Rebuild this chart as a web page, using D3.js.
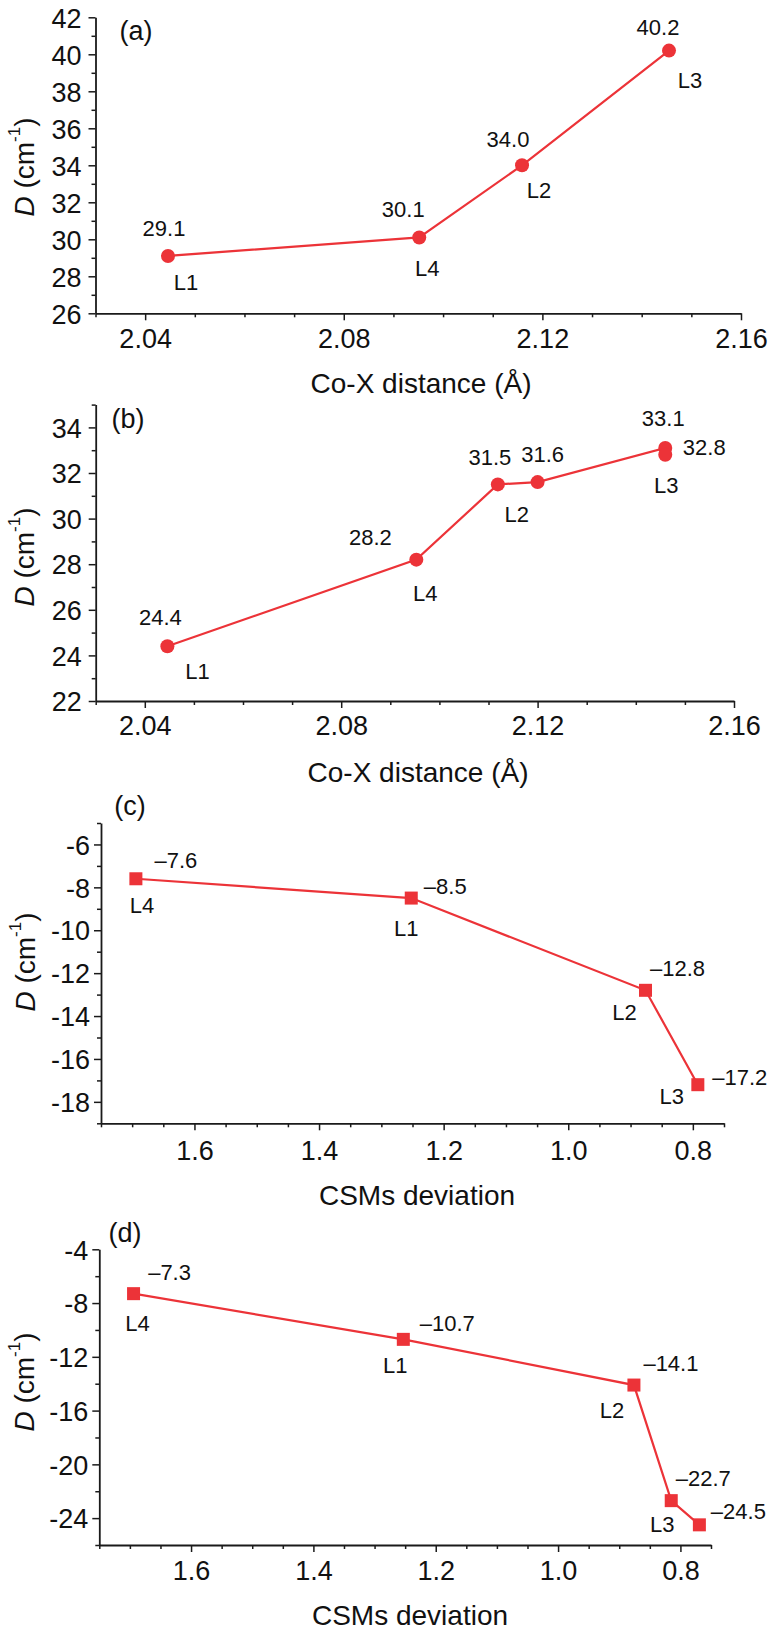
<!DOCTYPE html>
<html>
<head>
<meta charset="utf-8">
<script src="https://cdnjs.cloudflare.com/ajax/libs/d3/7.8.5/d3.min.js"></script>
<style>
  html, body { margin: 0; padding: 0; background: #fff; }
  svg { display: block; font-family: "Liberation Sans", Arial, sans-serif; }
</style>
</head>
<body>
<svg id="chart" width="771" height="1633"></svg>
<script>
// ---------- DATA ----------
// Panel (a): D vs Co-X distance
const aLigands = ["L1", "L4", "L2", "L3"];
const aDistance = [2.0446, 2.0952, 2.1159, 2.1455];
const aD = [29.1, 30.1, 34.0, 40.2];

// Panel (b): D vs Co-X distance
const bLigands = ["L1", "L4", "L2", "", "", "L3"];
const bDistance = [2.0446, 2.0953, 2.1119, 2.1200, 2.1460, 2.1460];
const bD = [24.4, 28.2, 31.5, 31.6, 33.1, 32.8];

// Panel (c): D vs CSMs deviation
const cLigands = ["L4", "L1", "L2", "L3"];
const cCSM = [1.694, 1.252, 0.876, 0.792];
const cD = [-7.6, -8.5, -12.8, -17.2];

// Panel (d): D vs CSMs deviation
const dLigands = ["L4", "L1", "L2", "L3", ""];
const dCSM = [1.694, 1.253, 0.876, 0.815, 0.769];
const dD = [-7.3, -10.7, -14.1, -22.7, -24.5];

// Tick labels
const distTicks = [2.04, 2.08, 2.12, 2.16];
const csmTicks = [1.6, 1.4, 1.2, 1.0, 0.8];
const aYTicks = [26, 28, 30, 32, 34, 36, 38, 40, 42];
const bYTicks = [22, 24, 26, 28, 30, 32, 34];
const cYTicks = [-18, -16, -14, -12, -10, -8, -6];
const dYTicks = [-24, -20, -16, -12, -8, -4];

// ---------- LAYOUT (label offsets in px, relative to point) ----------
const aValOff = [[-4,-28],[-16,-28],[-14,-26],[-11,-24]];
const aLabOff = [[18,26],[8,31],[17,25],[21,29]];
const bValOff = [[-7,-29],[-46,-23],[-8,-27],[5,-28],[-2,-30],[39,-8]];
const bLabOff = [[30,25],[9,33],[19,30],[0,0],[0,0],[1,30]];
const cValOff = [[40,-19],[34,-12],[32,-22],[42,-8]];
const cLabOff = [[6,26],[-5,30],[-21,22],[-26,11]];
const dValOff = [[36,-22],[44,-16],[37,-22],[32,-23],[39,-14]];
const dLabOff = [[4,29],[-8,26],[-22,25],[-9,23],[0,0]];

const RED = "#ec3338";
const AX = "#1a1a1a";
const svg = d3.select("#chart");

const fmtPos = d3.format(".1f");
const fmtNeg = v => "\u2013" + d3.format(".1f")(Math.abs(v));
const fmtInt = v => String(v); // hyphen-minus like the original

function panel(cfg) {
  const x = d3.scaleLinear().domain(cfg.xDomain).range(cfg.xRange);
  const y = d3.scaleLinear().domain(cfg.yDomain).range(cfg.yRange);
  const g = svg.append("g");
  const x0 = cfg.xRange[0], y0 = cfg.yRange[0];

  // minor ticks
  const xMinor = g.append("g").attr("transform", `translate(0,${y0})`)
    .call(d3.axisBottom(x).tickValues(cfg.xMinor).tickSize(4).tickFormat(""));
  const yMinor = g.append("g").attr("transform", `translate(${x0},0)`)
    .call(d3.axisLeft(y).tickValues(cfg.yMinor).tickSize(4).tickFormat(""));
  [xMinor, yMinor].forEach(s => { s.select(".domain").remove(); s.selectAll("line").attr("stroke", AX).attr("stroke-width", 1.5); });

  // major axes
  const xa = g.append("g").attr("transform", `translate(0,${y0})`)
    .call(d3.axisBottom(x).tickValues(cfg.xTicks).tickSize(7).tickSizeOuter(0).tickFormat(cfg.xFmt));
  const ya = g.append("g").attr("transform", `translate(${x0},0)`)
    .call(d3.axisLeft(y).tickValues(cfg.yTicks).tickSize(7).tickSizeOuter(0).tickFormat(fmtInt));
  [xa, ya].forEach(s => {
    s.select(".domain").attr("stroke", AX).attr("stroke-width", 1.8);
    s.selectAll("line").attr("stroke", AX).attr("stroke-width", 1.5);
    s.selectAll("text").attr("fill", "#111").style("font-size", "27px").style("font-family", "'Liberation Sans', Arial, sans-serif");
  });
  xa.selectAll("text").attr("y", cfg.xLabGap).attr("dy", "0.36em");
  ya.selectAll("text").attr("x", -cfg.yLabGap).attr("dy", "0.36em");

  // axis titles
  g.append("text").attr("x", cfg.xTitlePos[0]).attr("y", cfg.xTitlePos[1]).attr("dy", "0.36em")
    .attr("text-anchor", "middle").style("font-size", "28px").attr("fill", "#111").text(cfg.xTitle);
  const yt = g.append("text")
    .attr("transform", `translate(${cfg.yTitlePos[0]},${cfg.yTitlePos[1]}) rotate(-90)`)
    .attr("text-anchor", "middle").style("font-size", "28px").attr("fill", "#111");
  yt.append("tspan").style("font-style", "italic").text("D");
  yt.append("tspan").text(" (cm");
  yt.append("tspan").style("font-size", "17px").attr("dy", "-0.8em").text("-1");
  yt.append("tspan").attr("dy", "0.5em").text(")");

  // panel letter
  g.append("text").attr("x", cfg.tagPos[0]).attr("y", cfg.tagPos[1]).attr("dy", "0.36em")
    .attr("text-anchor", "middle").style("font-size", "27px").attr("fill", "#111").text(cfg.tag);

  // line
  const pts = cfg.xs.map((v, i) => [v, cfg.ys[i]]);
  g.append("path").datum(pts)
    .attr("fill", "none").attr("stroke", RED).attr("stroke-width", 2.2)
    .attr("d", d3.line().x(d => x(d[0])).y(d => y(d[1])));

  // markers
  if (cfg.marker === "circle") {
    g.selectAll(null).data(pts).enter().append("circle")
      .attr("cx", d => x(d[0])).attr("cy", d => y(d[1])).attr("r", 7).attr("fill", RED);
  } else {
    g.selectAll(null).data(pts).enter().append("rect")
      .attr("x", d => x(d[0]) - 6.5).attr("y", d => y(d[1]) - 6.5)
      .attr("width", 13).attr("height", 13).attr("fill", RED);
  }

  // value labels
  pts.forEach((d, i) => {
    g.append("text").attr("x", x(d[0]) + cfg.valOff[i][0]).attr("y", y(d[1]) + cfg.valOff[i][1])
      .attr("dy", "0.36em").attr("text-anchor", "middle").style("font-size", "22px").attr("fill", "#111")
      .text(cfg.valFmt(d[1]));
    if (cfg.labels[i]) {
      g.append("text").attr("x", x(d[0]) + cfg.labOff[i][0]).attr("y", y(d[1]) + cfg.labOff[i][1])
        .attr("dy", "0.36em").attr("text-anchor", "middle").style("font-size", "22px").attr("fill", "#111")
        .text(cfg.labels[i]);
    }
  });
}

const distMinor = d3.range(2.03, 2.1601, 0.01).map(v => +v.toFixed(2)).filter(v => !distTicks.includes(v));
const csmMinor = d3.range(0.75, 1.7501, 0.05).map(v => +v.toFixed(2)).filter(v => !csmTicks.includes(v));

panel({
  xDomain: [2.03, 2.16], xRange: [95.5, 741], yDomain: [26, 42], yRange: [313.3, 17.3],
  xTicks: distTicks, xMinor: distMinor, yTicks: aYTicks,
  yMinor: d3.range(27, 42, 2), xFmt: d3.format(".2f"),
  xLabGap: 25, yLabGap: 14,
  xTitle: "Co-X distance (\u00C5)", xTitlePos: [421, 383], yTitlePos: [34, 167],
  tag: "(a)", tagPos: [136, 30],
  xs: aDistance, ys: aD, labels: aLigands, valOff: aValOff, labOff: aLabOff,
  marker: "circle", valFmt: fmtPos
});

panel({
  xDomain: [2.03, 2.16], xRange: [95.7, 734], yDomain: [22, 35], yRange: [701, 404.6],
  xTicks: distTicks, xMinor: distMinor, yTicks: bYTicks,
  yMinor: d3.range(23, 36, 2), xFmt: d3.format(".2f"),
  xLabGap: 24, yLabGap: 14,
  xTitle: "Co-X distance (\u00C5)", xTitlePos: [418, 772], yTitlePos: [34, 557],
  tag: "(b)", tagPos: [128, 418],
  xs: bDistance, ys: bD, labels: bLigands, valOff: bValOff, labOff: bLabOff,
  marker: "circle", valFmt: fmtPos
});

panel({
  xDomain: [1.75, 0.75], xRange: [101, 724], yDomain: [-19, -5], yRange: [1123.3, 823],
  xTicks: csmTicks, xMinor: csmMinor, yTicks: cYTicks,
  yMinor: d3.range(-19, -4, 2), xFmt: d3.format(".1f"),
  xLabGap: 27, yLabGap: 11,
  xTitle: "CSMs deviation", xTitlePos: [417, 1195], yTitlePos: [35, 962],
  tag: "(c)", tagPos: [130, 805],
  xs: cCSM, ys: cD, labels: cLigands, valOff: cValOff, labOff: cLabOff,
  marker: "square", valFmt: fmtNeg
});

panel({
  xDomain: [1.75, 0.75], xRange: [99.3, 711], yDomain: [-26, -4], yRange: [1545, 1249.3],
  xTicks: csmTicks, xMinor: csmMinor, yTicks: dYTicks,
  yMinor: d3.range(-26, -5, 4), xFmt: d3.format(".1f"),
  xLabGap: 25, yLabGap: 11,
  xTitle: "CSMs deviation", xTitlePos: [410, 1615], yTitlePos: [34, 1382],
  tag: "(d)", tagPos: [125, 1232],
  xs: dCSM, ys: dD, labels: dLigands, valOff: dValOff, labOff: dLabOff,
  marker: "square", valFmt: fmtNeg
});
</script>
</body>
</html>
